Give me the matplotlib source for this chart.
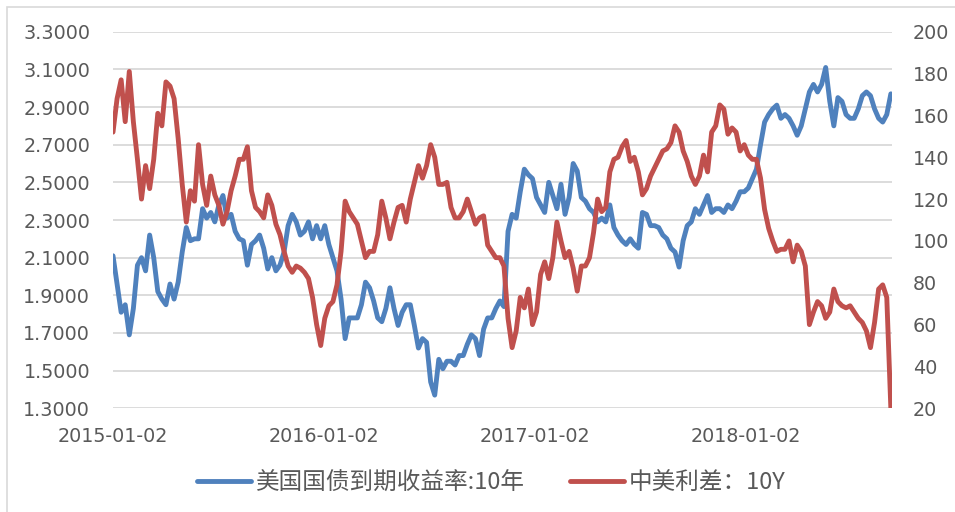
import matplotlib
matplotlib.use('Agg')
import matplotlib.pyplot as plt
import pandas as pd
from matplotlib.patches import Rectangle
from matplotlib.font_manager import FontProperties

# US 10Y Treasury yield (left axis), weekly samples
us10y = [
    2.11, 1.96, 1.81, 1.85, 1.69, 1.83, 2.06, 2.10, 2.03, 2.22, 2.10, 1.92, 1.88, 1.85, 1.96, 1.88,
    1.97, 2.13, 2.26, 2.19, 2.20, 2.20, 2.36, 2.31, 2.34, 2.29, 2.38, 2.43, 2.31, 2.33, 2.24, 2.20,
    2.19, 2.06, 2.17, 2.19, 2.22, 2.15, 2.04, 2.10, 2.03, 2.06, 2.13, 2.27, 2.33, 2.29, 2.22, 2.24,
    2.29, 2.20, 2.27, 2.20, 2.27, 2.17, 2.10, 2.03, 1.88, 1.67, 1.78, 1.78, 1.78, 1.85, 1.97, 1.94,
    1.87, 1.78, 1.76, 1.83, 1.94, 1.83, 1.74, 1.81, 1.85, 1.85, 1.74, 1.62, 1.67, 1.65, 1.44, 1.37,
    1.56, 1.51, 1.55, 1.55, 1.53, 1.58, 1.58, 1.64, 1.69, 1.67, 1.58, 1.72, 1.78, 1.78, 1.83, 1.87,
    1.84, 2.24, 2.33, 2.31, 2.45, 2.57, 2.54, 2.52, 2.42, 2.38, 2.34, 2.50, 2.43, 2.36, 2.49, 2.33,
    2.42, 2.60, 2.56, 2.42, 2.40, 2.36, 2.34, 2.29, 2.31, 2.29, 2.38, 2.26, 2.22, 2.19, 2.17, 2.20,
    2.17, 2.15, 2.34, 2.33, 2.27, 2.27, 2.26, 2.22, 2.20, 2.15, 2.13, 2.05, 2.19, 2.27, 2.29, 2.36,
    2.33, 2.38, 2.43, 2.34, 2.36, 2.36, 2.34, 2.38, 2.36, 2.40, 2.45, 2.45, 2.47, 2.52, 2.57, 2.70,
    2.82, 2.86, 2.89, 2.91, 2.84, 2.86, 2.84, 2.80, 2.75, 2.80, 2.89, 2.98, 3.02, 2.98, 3.02, 3.11,
    2.93, 2.80, 2.95, 2.93, 2.86, 2.84, 2.84, 2.89, 2.96, 2.98, 2.96, 2.89, 2.84, 2.82, 2.86, 2.97,
]

# China-US 10Y spread in bp (right axis)
spread = [
    152, 168, 177, 157, 181, 157, 139, 120, 136, 125, 139, 161, 155, 176, 174, 168,
    149, 127, 109, 124, 119, 146, 127, 117, 131, 122, 117, 108, 114, 124, 131, 139,
    139, 145, 124, 116, 114, 111, 122, 117, 108, 103, 95, 88, 85, 88, 87, 85,
    82, 73, 60, 50, 63, 69, 71, 79, 95, 119, 114, 111, 108, 100, 92, 95,
    95, 103, 119, 111, 101, 109, 116, 117, 109, 120, 128, 136, 130, 136, 146, 140,
    127, 127, 128, 116, 111, 111, 114, 120, 114, 108, 111, 112, 98, 95, 92, 92,
    88, 63, 49, 57, 73, 68, 77, 60, 66, 84, 90, 82, 92, 109, 100, 92,
    95, 87, 76, 88, 88, 92, 104, 120, 114, 116, 133, 139, 140, 145, 148, 138,
    140, 133, 122, 125, 131, 135, 139, 143, 144, 147, 155, 152, 143, 138, 131, 127,
    131, 141, 133, 152, 155, 165, 163, 151, 154, 152, 143, 146, 141, 139, 139, 130,
    115, 106, 100, 95, 96, 96, 100, 90, 98, 95, 88, 60, 66, 71, 69, 63,
    66, 77, 71, 69, 68, 69, 66, 63, 61, 57, 49, 61, 77, 79, 73, 20,
]

start_date = '2015-01-02'
end_date = '2018-09-11'
x_ticks = ['2015-01-02', '2016-01-02', '2017-01-02', '2018-01-02']
left_ticks = [1.3, 1.5, 1.7, 1.9, 2.1, 2.3, 2.5, 2.7, 2.9, 3.1, 3.3]
right_ticks = [20, 40, 60, 80, 100, 120, 140, 160, 180, 200]
labels = ['美国国债到期收益率:10年', '中美利差：10Y']

dates = pd.date_range(start_date, end_date, periods=len(us10y))

BLUE = '#4F81BD'
RED = '#C0504D'
GRID = '#D9D9D9'
TXT = '#595959'

W, H = 955, 512
fig = plt.figure(figsize=(W / 100, H / 100), dpi=100)
fig.patch.set_facecolor('white')

L, R, T, B = 113, 892, 31.7, 408.3
ax = fig.add_axes([L / W, 1 - B / H, (R - L) / W, (B - T) / H])
ax2 = ax.twinx()

l1, = ax.plot(dates, us10y, color=BLUE, lw=3.5, solid_joinstyle='round', solid_capstyle='round')
l2, = ax2.plot(dates, spread, color=RED, lw=3.5, solid_joinstyle='round', solid_capstyle='round')

ax.set_xlim(pd.Timestamp(start_date), pd.Timestamp('2018-09-13'))
ax.set_ylim(1.3, 3.3)
ax2.set_ylim(20, 200)

ax.set_yticks(left_ticks)
ax.set_yticklabels([f'{v:.4f}' for v in left_ticks])
ax2.set_yticks(right_ticks)
ax2.set_yticklabels([str(v) for v in right_ticks])
ax.set_xticks([pd.Timestamp(d) for d in x_ticks])
ax.set_xticklabels(x_ticks)

ax.grid(axis='y', color=GRID, lw=1.3)
ax.set_axisbelow(True)
for a in (ax, ax2):
    for s in a.spines.values():
        s.set_visible(False)
ax.tick_params(axis='y', length=0, pad=16.5, labelsize=13.8, labelcolor=TXT)
ax.tick_params(axis='x', length=0, pad=13.5, labelsize=13.8, labelcolor=TXT)
ax2.tick_params(axis='y', length=0, pad=15, labelsize=13.8, labelcolor=TXT)

fp = FontProperties(family=['Noto Sans CJK SC', 'DejaVu Sans'], size=17)
leg = fig.legend([l1, l2], labels, loc='center', bbox_to_anchor=(491.5 / W, 1 - 483 / H),
                 ncol=2, frameon=False, prop=fp, handlelength=2.3, handletextpad=0.2,
                 columnspacing=1.9, borderpad=0, borderaxespad=0)
for t in leg.get_texts():
    t.set_color(TXT)
for h in leg.legend_handles:
    h.set_linewidth(3.5)

fig.add_artist(Rectangle((7 / W, -0.02), 1.0, 1 - 7 / H + 0.02, transform=fig.transFigure,
                         fill=False, ec=GRID, lw=1.2))

fig.savefig('out.png', dpi=100)
